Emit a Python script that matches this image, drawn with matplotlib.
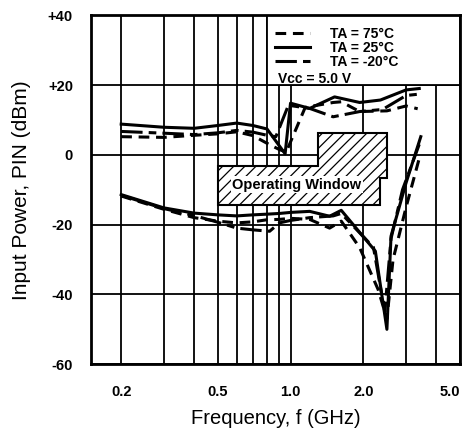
import matplotlib
matplotlib.use('Agg')
import matplotlib.pyplot as plt
from matplotlib.patches import Polygon, Rectangle
from matplotlib.ticker import FixedLocator, NullLocator
from matplotlib.lines import Line2D

plt.rcParams['font.family'] = ['Liberation Sans', 'DejaVu Sans']
plt.rcParams['hatch.linewidth'] = 0.9

# upper limit of input power (dBm) vs frequency (GHz)
f_up_75 = [0.2, 0.3, 0.4, 0.5, 0.6, 0.7, 0.8, 0.9, 0.96, 1.15, 1.5, 1.62, 1.93, 2.5, 3.0, 3.35]
p_up_75 = [5.2, 5.0, 5.6, 6.0, 6.6, 5.5, 3.3, 1.5, 0.8, 13.6, 15.0, 15.2, 12.4, 12.6, 14.0, 13.2]
f_up_25 = [0.2, 0.3, 0.4, 0.5, 0.6, 0.7, 0.8, 0.95, 1.0, 1.2, 1.52, 1.93, 2.35, 3.0, 3.4]
p_up_25 = [8.8, 7.9, 7.6, 8.4, 9.1, 8.4, 7.4, 0.3, 14.8, 13.3, 16.6, 15.0, 15.7, 18.6, 19.0]
f_up_m20 = [0.2, 0.3, 0.4, 0.5, 0.6, 0.7, 0.8, 0.87, 0.98, 1.2, 1.5, 1.93, 2.4, 3.0, 3.4]
p_up_m20 = [6.7, 6.2, 5.8, 6.3, 7.0, 6.5, 5.6, 5.2, 14.2, 13.3, 10.9, 12.4, 13.0, 17.0, 17.4]

# lower limit
f_lo_75 = [0.2, 0.3, 0.4, 0.5, 0.6, 0.7, 0.8, 0.9, 1.0, 1.2, 1.45, 1.62, 1.93, 2.3, 2.5, 2.65, 3.0, 3.4]
p_lo_75 = [-11.8, -15.6, -18.0, -19.0, -19.5, -19.2, -18.6, -18.5, -18.2, -18.5, -21.0, -19.0, -26.6, -38.6, -47.0, -30.0, -15.0, -1.0]
f_lo_25 = [0.2, 0.3, 0.4, 0.5, 0.6, 0.7, 0.8, 0.9, 1.0, 1.2, 1.45, 1.62, 2.24, 2.5, 2.6, 3.0, 3.45]
p_lo_25 = [-11.4, -15.2, -16.7, -17.2, -17.5, -17.2, -17.0, -16.8, -16.5, -16.2, -17.6, -15.9, -27.6, -50.0, -23.3, -8.0, 5.2]
f_lo_m20 = [0.2, 0.3, 0.4, 0.5, 0.6, 0.7, 0.82, 0.9, 1.0, 1.2, 1.5, 1.62, 2.2, 2.45, 2.6, 2.9, 3.4]
p_lo_m20 = [-11.6, -15.4, -17.4, -19.3, -21.0, -21.5, -21.9, -19.5, -18.8, -18.0, -17.5, -16.8, -26.5, -45.0, -24.0, -10.0, 3.0]

# operating window outline (GHz, dBm)
win_f = [0.5, 1.3, 1.3, 2.5, 2.5, 2.35, 2.35, 0.5]
win_p = [-3.3, -3.3, 6.2, 6.2, -6.6, -6.6, -14.3, -14.3]

grid_f = [0.2, 0.3, 0.4, 0.5, 0.6, 0.7, 0.8, 0.9, 1.0, 2.0, 3.0, 4.0, 5.0]
grid_lbl = ['0.2', '', '', '0.5', '', '', '', '', '1.0', '2.0', '', '', '5.0']
y_ticks = [40, 20, 0, -20, -40, -60]
y_lbl = ['+40', '+20', '0', '-20', '-40', '-60']

fig = plt.figure(figsize=(4.64, 4.29), dpi=100)
ax = fig.add_axes([0.196, 0.151, 0.795, 0.8135])
ax.set_xscale('log')
ax.set_xlim(0.15, 5.0)
ax.set_ylim(-60, 40)
ax.set_axisbelow(True)

ax.xaxis.set_major_locator(FixedLocator(grid_f))
ax.xaxis.set_minor_locator(NullLocator())
ax.set_xticklabels(grid_lbl)
ax.set_yticks(y_ticks)
ax.set_yticklabels(y_lbl)
ax.tick_params(length=0, labelsize=10.5)
ax.tick_params(axis='x', pad=15)
ax.tick_params(axis='y', pad=13)
for t in ax.get_xticklabels() + ax.get_yticklabels():
    t.set_fontweight('bold')
ax.get_xticklabels()[-1].set_horizontalalignment('right')
ax.grid(True, color='black', linewidth=1.3)
for s in ax.spines.values():
    s.set_linewidth(2)
    s.set_zorder(6)

# white legend area in upper right
ax.add_patch(Rectangle((0.8, 20), 5.0 - 0.8, 20, facecolor='white',
                       edgecolor='black', linewidth=1.3, zorder=1))

win = Polygon(list(zip(win_f, win_p)), closed=True, facecolor='white',
              edgecolor='black', hatch='///', linewidth=1.5, zorder=1.2)
ax.add_patch(win)
ax.text(1.06, -8.6, 'Operating Window', ha='center', va='center',
        fontsize=10.5, fontweight='bold', zorder=1.5,
        bbox=dict(facecolor='white', edgecolor='none', pad=1))

ls75 = (0, (3.5, 2.2))
ls25 = '-'
lsm20 = (0, (7, 2, 2.5, 2))
lw = 2.2
ax.plot(f_up_75, p_up_75, color='black', linestyle=ls75, linewidth=lw, zorder=3)
ax.plot(f_up_25, p_up_25, color='black', linestyle=ls25, linewidth=lw, zorder=3)
ax.plot(f_up_m20, p_up_m20, color='black', linestyle=lsm20, linewidth=lw, zorder=3)
ax.plot(f_lo_75, p_lo_75, color='black', linestyle=ls75, linewidth=lw, zorder=3)
ax.plot(f_lo_25, p_lo_25, color='black', linestyle=ls25, linewidth=lw, zorder=3)
ax.plot(f_lo_m20, p_lo_m20, color='black', linestyle=lsm20, linewidth=lw, zorder=3)

handles = [Line2D([], [], color='black', linestyle=ls75, linewidth=lw),
           Line2D([], [], color='black', linestyle=ls25, linewidth=lw),
           Line2D([], [], color='black', linestyle=lsm20, linewidth=lw)]
labels = ['TA = 75°C', 'TA = 25°C', 'TA = -20°C']
leg = ax.legend(handles, labels, loc='upper left', bbox_to_anchor=(0.5, 0.967),
                frameon=False, handlelength=2.5, handletextpad=1.4,
                labelspacing=0.0, borderpad=0, borderaxespad=0,
                prop={'size': 10, 'weight': 'bold'})
leg.set_zorder(5)
ax.text(0.507, 0.818, 'Vcc = 5.0 V', transform=ax.transAxes, ha='left',
        va='center', fontsize=10, fontweight='bold', zorder=5)

ax.set_xlabel('Frequency, f (GHz)', fontsize=14.5, labelpad=7)
ax.set_ylabel('Input Power, PIN (dBm)', fontsize=15, labelpad=12)

fig.savefig('out.png', dpi=100)
